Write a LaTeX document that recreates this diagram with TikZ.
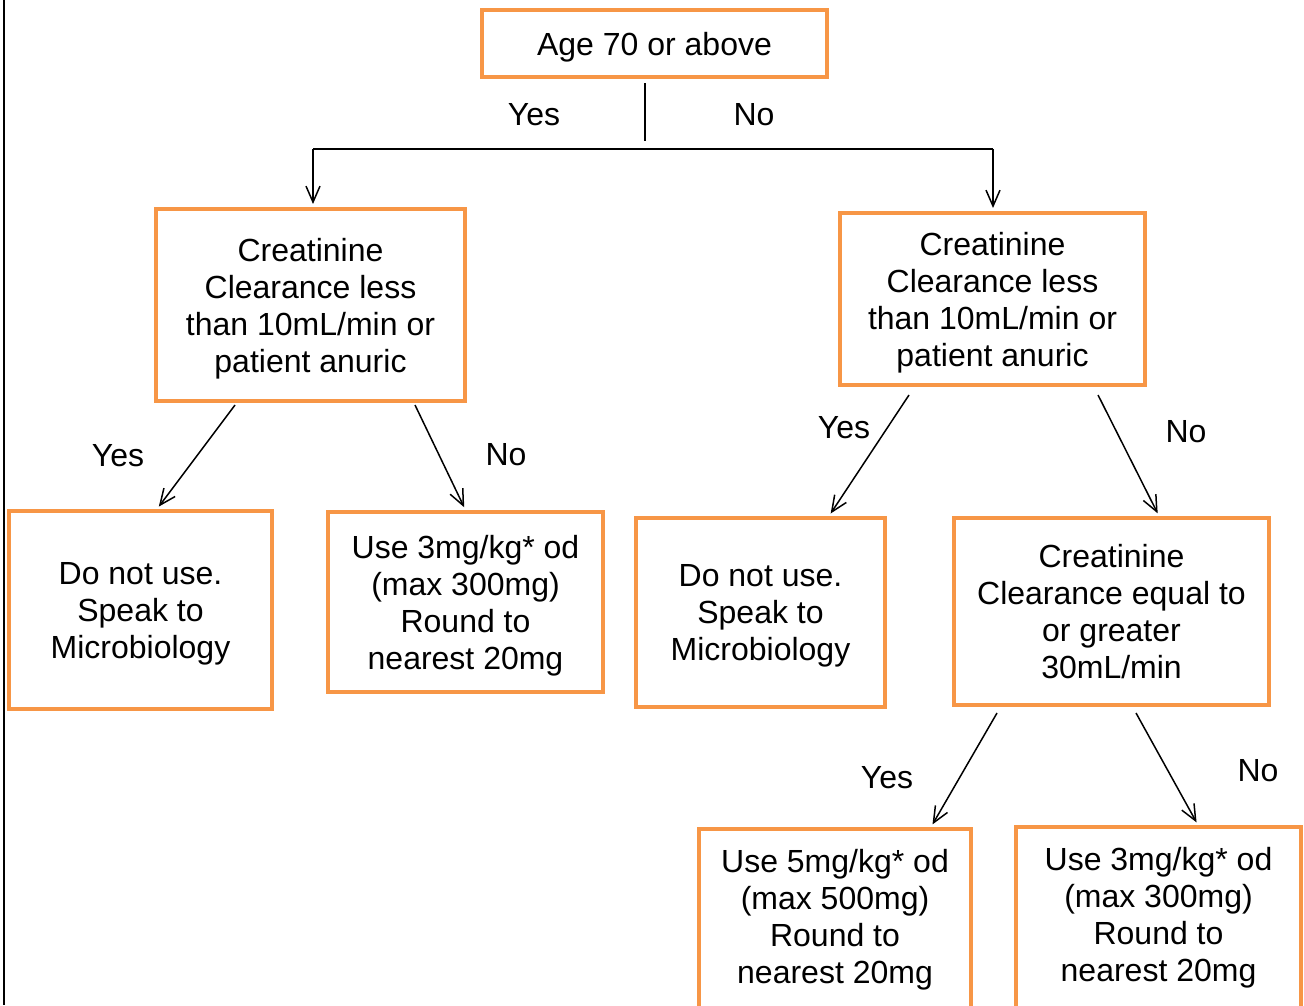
\documentclass[tikz,border=0pt]{standalone}
\usepackage{fontspec}
\setmainfont{Liberation Sans}
\usetikzlibrary{arrows.meta}
\definecolor{boxorange}{RGB}{247,150,70}
\tikzstyle{box} = [draw=boxorange, line width=2pt, align=center, text depth=0pt, font=\fontsize{16}{18.5}\selectfont]
\tikzstyle{lbl} = [font=\fontsize{16}{18.5}\selectfont]
\tikzstyle{arrow} = [line width=0.75pt, ->, >={Straight Barb[length=8pt,width=7pt]}, shorten >=1.5pt]

\begin{document}
\begin{tikzpicture}[x=0.5pt, y=-0.5pt]
    \useasboundingbox (0,0) rectangle (1304,1005);
    \draw[line width=1pt] (4,0) -- (4,1005);

    % Nodes
    \node[box, minimum width=172.5pt, minimum height=33.5pt] (age) at (654.5,44) {Age 70 or above};
    \node[box, minimum width=154.5pt, minimum height=96pt] (crclA) at (310.5,305) {Creatinine\\Clearance less\\than 10mL/min or\\patient anuric};
    \node[box, minimum width=152.5pt, minimum height=86pt] (crclB) at (992.5,299) {Creatinine\\Clearance less\\than 10mL/min or\\patient anuric};
    \node[box, minimum width=131.5pt, minimum height=99pt] (stopA) at (140.5,610) {Do not use.\\Speak to\\Microbiology};
    \node[box, minimum width=137.5pt, minimum height=90pt] (doseA) at (465.5,602) {Use 3mg/kg* od\\(max 300mg)\\Round to\\nearest 20mg};
    \node[box, minimum width=124.5pt, minimum height=94.5pt] (stopB) at (760.5,612.5) {Do not use.\\Speak to\\Microbiology};
    \node[box, minimum width=157.5pt, minimum height=93.5pt] (crclC) at (1111.5,611.5) {Creatinine\\Clearance equal to\\or greater\\30mL/min};
    \node[box, minimum width=136pt, minimum height=105.5pt] (doseB) at (835,934.5) {Use 5mg/kg* od\\(max 500mg)\\Round to\\nearest 20mg\\ \mbox{}};
    \node[box, minimum width=142.5pt, minimum height=105.5pt] (doseC) at (1158.5,932.5) {Use 3mg/kg* od\\(max 300mg)\\Round to\\nearest 20mg\\ \mbox{}};

    % Labels
    \node[lbl] (yesAge) at (534,115) {Yes};
    \node[lbl] (noAge) at (754,115) {No};
    \node[lbl] (yesA) at (118,456) {Yes};
    \node[lbl] (noA) at (506,455) {No};
    \node[lbl] (yesB) at (844,428) {Yes};
    \node[lbl] (noB) at (1186,432) {No};
    \node[lbl] (yesC) at (887,778) {Yes};
    \node[lbl] (noC) at (1258,771) {No};

    % Edges
    \coordinate (fork) at (645,149);
    \coordinate (forkL) at (313,149);
    \coordinate (forkR) at (993,149);
    \draw[line width=0.75pt] ([xshift=-4.75pt,yshift=-2pt]age.south) -- ([yshift=4pt]fork);
    \draw[line width=0.75pt] (forkL) -- (forkR);
    \draw[arrow] (forkL) -- (forkL |- crclA.north);
    \draw[arrow] (forkR) -- (forkR |- crclB.north);
    \draw[arrow] ([xshift=-37.75pt,yshift=-1pt]crclA.south) -- ([xshift=8.25pt]stopA.north);
    \draw[arrow] ([xshift=52.25pt,yshift=-1pt]crclA.south) -- (doseA.north);
    \draw[arrow] ([xshift=-41.75pt,yshift=-4pt]crclB.south) -- ([xshift=34.25pt]stopB.north);
    \draw[arrow] ([xshift=52.75pt,yshift=-4pt]crclB.south) -- ([xshift=23.75pt]crclC.north);
    \draw[arrow] ([xshift=-57.25pt,yshift=-3pt]crclC.south) -- ([xshift=48pt]doseB.north);
    \draw[arrow] ([xshift=12.25pt,yshift=-3pt]crclC.south) -- ([xshift=19.75pt]doseC.north);
\end{tikzpicture}
\end{document}
